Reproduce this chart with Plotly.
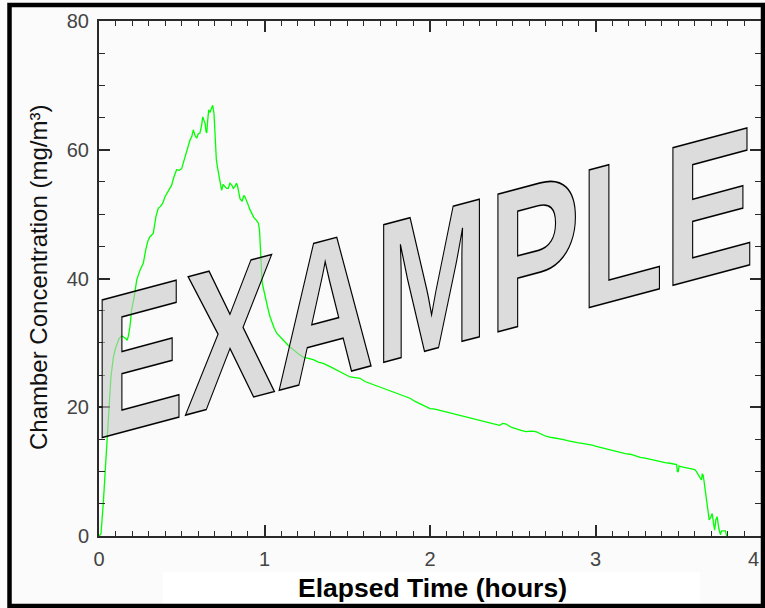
import plotly.graph_objects as go

# ---- data ----
time_h = [0.000, 0.012, 0.026, 0.036, 0.050, 0.060, 0.072, 0.087, 0.100, 0.107, 0.120, 0.137,
          0.150, 0.161, 0.170, 0.177, 0.187, 0.197, 0.213, 0.228, 0.248, 0.268, 0.282, 0.295,
          0.308, 0.328, 0.344, 0.358, 0.372, 0.385, 0.399, 0.419, 0.439, 0.453, 0.469, 0.485,
          0.500, 0.520, 0.534, 0.550, 0.560, 0.570, 0.580, 0.590, 0.600, 0.610, 0.620, 0.627,
          0.635, 0.641, 0.647, 0.651, 0.657, 0.663, 0.670, 0.677, 0.687, 0.695, 0.699, 0.703,
          0.709, 0.715, 0.722, 0.731, 0.741, 0.750, 0.761, 0.771, 0.781, 0.791, 0.802, 0.812,
          0.822, 0.830, 0.836, 0.844, 0.852, 0.865, 0.875, 0.882, 0.892, 0.902, 0.912, 0.923,
          0.935, 0.949, 0.963, 0.970, 0.973, 0.976, 0.980, 0.985, 0.992, 1.003, 1.013, 1.023,
          1.033, 1.044, 1.058, 1.074, 1.094, 1.114, 1.144, 1.174, 1.204, 1.234, 1.264, 1.295,
          1.325, 1.355, 1.396, 1.426, 1.456, 1.487, 1.517, 1.547, 1.577, 1.607, 1.637, 1.678,
          1.718, 1.758, 1.799, 1.839, 1.879, 1.910, 1.940, 1.970, 2.000, 2.030, 2.060, 2.090,
          2.120, 2.150, 2.180, 2.210, 2.240, 2.270, 2.300, 2.330, 2.360, 2.390, 2.420, 2.440,
          2.460, 2.490, 2.520, 2.550, 2.580, 2.610, 2.640, 2.670, 2.700, 2.735, 2.770, 2.800,
          2.830, 2.860, 2.890, 2.920, 2.950, 2.980, 3.010, 3.040, 3.070, 3.100, 3.130, 3.150,
          3.180, 3.210, 3.240, 3.270, 3.300, 3.330, 3.360, 3.390, 3.420, 3.450, 3.480, 3.490,
          3.495, 3.500, 3.505, 3.510, 3.530, 3.550, 3.570, 3.590, 3.600, 3.610, 3.620, 3.630,
          3.640, 3.645, 3.650, 3.656, 3.660, 3.667, 3.677, 3.687, 3.695, 3.705, 3.713, 3.720,
          3.727, 3.735, 3.745, 3.755, 3.762, 3.775, 3.785, 3.792, 3.800]
conc = [0.0, 0.3, 5.1, 10.0, 15.4, 19.6, 24.7, 27.8, 29.2, 29.7, 30.6, 31.1,
        30.9, 30.7, 30.4, 31.0, 32.5, 35.1, 37.2, 39.8, 41.3, 42.4, 44.4, 45.8,
        46.5, 47.0, 49.6, 50.9, 51.2, 51.7, 52.7, 53.7, 54.5, 55.8, 56.9, 56.8,
        57.1, 58.9, 60.2, 61.5, 62.0, 63.1, 62.2, 61.8, 62.5, 62.6, 63.8, 65.1,
        64.5, 64.1, 62.8, 62.6, 64.6, 66.2, 65.8, 66.4, 66.9, 65.6, 63.0, 60.0,
        58.5, 57.4, 56.3, 55.3, 53.7, 54.6, 54.3, 54.0, 54.0, 54.8, 54.5, 54.0,
        54.3, 54.8, 54.5, 53.2, 52.4, 52.0, 52.9, 52.7, 51.9, 51.4, 50.7, 50.1,
        49.5, 49.1, 48.6, 47.5, 46.0, 44.5, 41.5, 39.6, 38.6, 37.2, 36.1, 35.1,
        34.1, 33.3, 32.3, 31.5, 30.9, 30.4, 29.6, 28.9, 28.3, 27.8, 27.6, 27.4,
        27.0, 26.8, 26.3, 25.9, 25.5, 25.0, 24.7, 24.6, 24.5, 24.0, 23.7, 23.3,
        22.9, 22.5, 22.2, 21.8, 21.4, 20.9, 20.5, 20.2, 19.8, 19.7, 19.5, 19.3,
        19.1, 19.0, 18.8, 18.5, 18.3, 18.2, 18.0, 17.8, 17.6, 17.4, 17.2, 17.5,
        17.4, 16.9, 16.6, 16.4, 16.2, 16.3, 16.2, 15.8, 15.5, 15.3, 15.2, 15.0,
        14.8, 14.6, 14.5, 14.4, 14.3, 14.1, 13.9, 13.7, 13.5, 13.3, 13.1, 12.9,
        12.8, 12.7, 12.4, 12.2, 12.1, 11.9, 11.7, 11.5, 11.4, 11.3, 11.1, 11.1,
        10.0, 10.0, 10.9, 10.8, 10.7, 10.6, 10.5, 10.4, 10.3, 10.0, 9.6, 9.2,
        8.7, 9.6, 9.5, 8.5, 7.7, 5.6, 4.0, 2.5, 2.8, 3.5, 2.0, 0.9,
        2.5, 3.0, 1.2, 0.2, 0.8, 0.8, 0.8, 0.0, 0.0]

x_tick_vals = [0, 1, 2, 3, 4]
x_tick_labels = ["0", "1", "2", "3", "4"]
y_tick_vals = [0, 20, 40, 60, 80]
y_tick_text = ["0", "20", "40", "60", "80"]
x_title = "Elapsed Time (hours)"
y_title = "Chamber Concentration (mg/m³)"
watermark = "EXAMPLE"

# ---- layout geometry (pixels) ----
W, H = 765, 608
ML, MR, MT, MB = 99, 4, 21, 72
PW, PH = W - ML - MR, H - MT - MB


def px_x(px):
    return (px - ML) / PW


def px_y(py):
    return (H - MB - py) / PH


FONT = "Liberation Sans, Arial, sans-serif"
AX = "#2a2a2a"
TICKFONT = dict(family=FONT, size=20, color="#444444")

fig = go.Figure()
fig.add_trace(go.Scatter(x=time_h, y=conc, mode="lines",
                         line=dict(color="#00ff00", width=1.3),
                         hoverinfo="skip", showlegend=False))

axis_common = dict(showgrid=False, zeroline=False, showline=True, linecolor=AX, linewidth=2,
                   mirror="ticks", ticks="inside", ticklen=11, tickwidth=1.5, tickcolor=AX,
                   automargin=False, ticklabeloverflow="allow", tickfont=TICKFONT)

# the last x label sits at the very right edge; it is drawn as an annotation just inside it
x_tick_text = x_tick_labels[:-1] + [""]

fig.update_layout(
    width=W, height=H, autosize=False,
    margin=dict(l=ML, r=MR, t=MT, b=MB, pad=0),
    paper_bgcolor="#fbfbfb", plot_bgcolor="#fbfbfb",
    showlegend=False,
    xaxis=dict(range=[0, 4], tickmode="array", tickvals=x_tick_vals, ticktext=x_tick_text,
               minor=dict(tick0=0, dtick=0.1, ticks="inside", ticklen=5, tickwidth=1.3,
                          tickcolor=AX, showgrid=False),
               ticklabelstandoff=4, **axis_common),
    yaxis=dict(range=[0, 80], tickmode="array", tickvals=y_tick_vals, ticktext=y_tick_text,
               minor=dict(tick0=0, dtick=5, ticks="inside", ticklen=6, tickwidth=1.3,
                          tickcolor=AX, showgrid=False),
               ticklabelstandoff=4, **axis_common),
)

fig.add_annotation(text=x_tick_labels[-1], xref="x", yref="paper", x=x_tick_vals[-1],
                   y=px_y(559), xanchor="right", yanchor="middle", xshift=0,
                   showarrow=False, font=TICKFONT)

# white box behind the x title
fig.add_shape(type="rect", xref="paper", yref="paper",
              x0=px_x(163), x1=px_x(700), y0=px_y(605), y1=px_y(572),
              fillcolor="#ffffff", line=dict(width=0), layer="below")
# black frame around the picture
fig.add_shape(type="rect", xref="paper", yref="paper",
              x0=px_x(9.5), x1=px_x(763), y0=px_y(606), y1=px_y(5),
              fillcolor="rgba(0,0,0,0)", line=dict(color="#000000", width=4.5), layer="above")

fig.add_annotation(text=x_title, xref="paper", yref="paper", x=px_x(432), y=px_y(588),
                   xanchor="center", yanchor="middle", showarrow=False,
                   font=dict(family=FONT, size=26.5, color="#000000", weight="bold"))
fig.add_annotation(text=y_title, xref="paper", yref="paper", x=px_x(38), y=px_y(278),
                   xanchor="center", yanchor="middle", showarrow=False, textangle=-90,
                   font=dict(family=FONT, size=24, color="#111111"))
fig.add_annotation(text=watermark, xref="paper", yref="paper", x=0.5, y=0.5,
                   xanchor="center", yanchor="middle", showarrow=False,
                   font=dict(family=FONT, size=200, color="rgba(200,200,200,0.6)", weight="bold"))

post = """
document.body.style.margin='0';
document.documentElement.style.overflow='hidden';
document.body.style.overflow='hidden';
var gd=document.getElementById('{plot_id}');
function skewMark(){
  var texts=gd.querySelectorAll('text.annotation-text');
  texts.forEach(function(t){
    if(t.textContent!=='EXAMPLE') return;
    t.removeAttribute('transform');
    var bb=t.getBBox();
    var m=t.getCTM();
    var fs=200;
    var sx=662/bb.width;
    var XL=93-m.e, YB=440-m.f;
    var yb=bb.y+0.905*fs;
    var x0=bb.x;
    var k=-0.267;
    var a=sx, b=k*sx, e=XL-sx*x0, f=YB-yb-k*sx*x0;
    t.setAttribute('transform','matrix('+[a,b,0,1,e,f].join(',')+')');
    t.style.stroke='#000000';
    t.style.strokeWidth='1.4px';
    t.style.vectorEffect='non-scaling-stroke';
    t.style.strokeLinejoin='miter';
  });
}
skewMark();
if(gd.on){gd.on('plotly_afterplot', skewMark);}
"""

fig.write_html("out.html", post_script=post,
               config={"responsive": False, "displayModeBar": False})
